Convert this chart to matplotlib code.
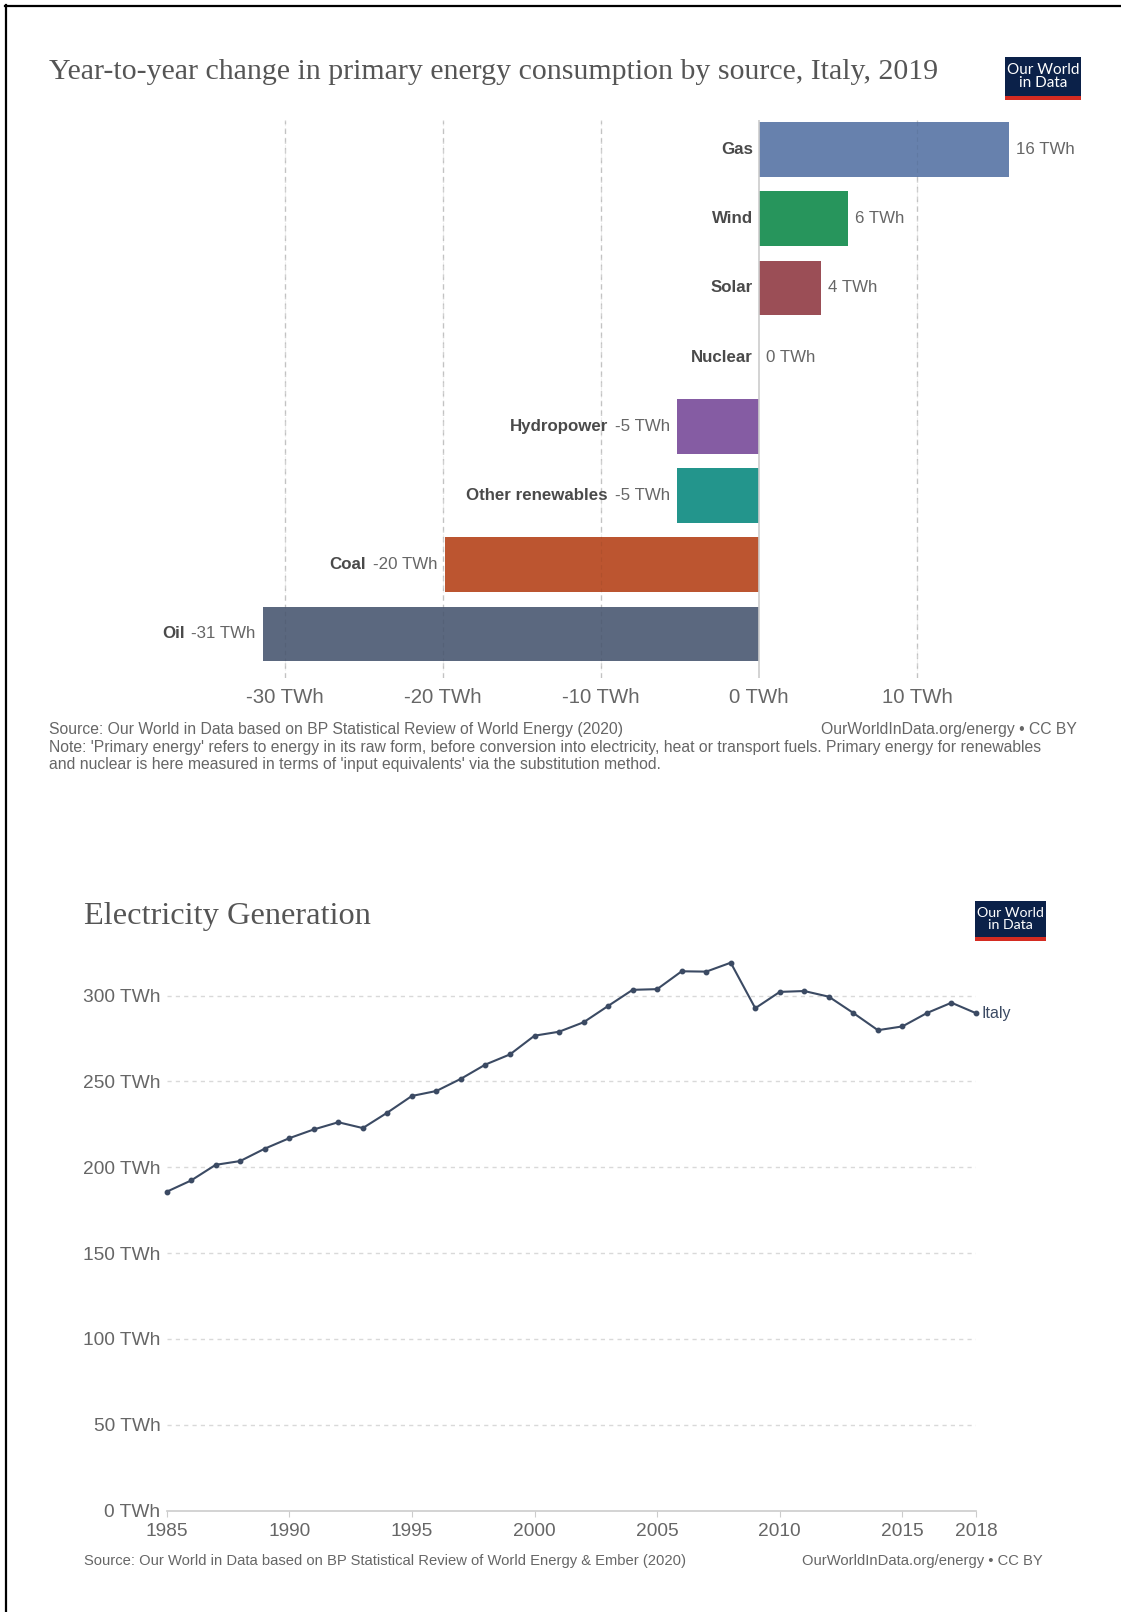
import matplotlib
matplotlib.use("Agg")
import matplotlib.pyplot as plt
from matplotlib.patches import Rectangle
from matplotlib.lines import Line2D

# ---- data ----
sources = ["Gas", "Wind", "Solar", "Nuclear", "Hydropower", "Other renewables", "Coal", "Oil"]
change_twh = [15.8, 5.6, 3.9, 0.0, -5.2, -5.2, -19.9, -31.4]
source_colors = ["#6781AD", "#27955C", "#9B4E56", "#888888", "#855CA3", "#23958C", "#BC5530", "#5B687F"]
bar_ticks = [-30, -20, -10, 0, 10]

years = list(range(1985, 2019))
generation_twh = [185.7, 192.3, 201.4, 203.6, 210.8, 216.9, 222.0, 226.2, 222.8, 231.8,
                  241.5, 244.4, 251.5, 259.8, 265.7, 276.6, 278.9, 284.4, 293.9, 303.3,
                  303.7, 314.1, 313.9, 319.1, 292.6, 302.1, 302.6, 299.3, 289.8, 279.8,
                  282.0, 289.8, 295.8, 289.7]
year_ticks = [1985, 1990, 1995, 2000, 2005, 2010, 2015, 2018]
gen_ticks = [0, 50, 100, 150, 200, 250, 300]

W, H = 1121, 1612
fig = plt.figure(figsize=(W / 100, H / 100), dpi=100)
fig.patch.set_facecolor("white")

SANS = ["Liberation Sans", "DejaVu Sans"]
SERIF = ["Liberation Serif", "DejaVu Serif"]
GREY = "#666666"
NAME_GREY = "#4a4a4a"
LINE_COL = "#3B4A63"


def fx(px):
    return px / W


def fy(py):
    return 1 - py / H


def axes_px(left, top, right, bottom):
    return fig.add_axes([fx(left), fy(bottom), fx(right) - fx(left), fy(top) - fy(bottom)])


def fit_width(txt, target_px):
    renderer = fig.canvas.get_renderer()
    w = txt.get_window_extent(renderer).width
    txt.set_fontsize(txt.get_fontsize() * target_px / w)


def logo(left, top, right, bottom, size):
    fig.add_artist(Rectangle((fx(left), fy(bottom)), fx(right) - fx(left), fy(top) - fy(bottom),
                             transform=fig.transFigure, facecolor="#0B2149", edgecolor="none"))
    strip = 4
    fig.add_artist(Rectangle((fx(left), fy(bottom)), fx(right) - fx(left), strip / H,
                             transform=fig.transFigure, facecolor="#D42B21", edgecolor="none"))
    fig.text(fx((left + right) / 2), fy((top + bottom - strip) / 2), "Our World\nin Data",
             ha="center", va="center", color="white", family=["Lato", "DejaVu Sans"],
             fontsize=size, linespacing=0.95)


# ---- frame lines ----
fig.add_artist(Line2D([fx(5), 1], [fy(6), fy(6)], transform=fig.transFigure, color="black", lw=1.6))
fig.add_artist(Line2D([fx(6), fx(6)], [fy(5), 0], transform=fig.transFigure, color="black", lw=1.6))

# ---- top chart: year-to-year change ----
t1 = fig.text(fx(49), fy(72), "Year-to-year change in primary energy consumption by source, Italy, 2019",
              ha="left", va="center", family=SERIF, fontsize=19, color="#555555")
fit_width(t1, 889)
logo(1005, 57, 1081, 100, 11.0)

px_per = (917.3 - 284.9) / 40.0
zero_px = 284.9 + 30 * px_per
L1, R1, T1, B1 = 240, 1040, 120, 678
row_c0, row_step = 149.6, 69.2
ax1 = axes_px(L1, T1, R1, B1)
ax1.set_xlim((L1 - zero_px) / px_per, (R1 - zero_px) / px_per)
ax1.set_ylim((B1 - row_c0) / row_step, (T1 - row_c0) / row_step)
ypos = list(range(len(sources)))
ax1.barh(ypos, change_twh, height=0.79, color=source_colors, zorder=2)
for t in bar_ticks:
    if t == 0:
        ax1.axvline(0, color="#cccccc", lw=1.2, zorder=3)
    else:
        ax1.axvline(t, color="#cfcfcf", lw=1.0, ls=(0, (4, 3)), zorder=1)
        ax1.axvline(t, color="#000000", lw=0.8, ls=(0, (4, 3)), zorder=2.5, alpha=0.06)
for s in ax1.spines.values():
    s.set_visible(False)
ax1.set_yticks([])
ax1.set_xticks(bar_ticks)
ax1.set_xticklabels([f"{t} TWh" for t in bar_ticks], family=SANS, fontsize=14.7, color=GREY)
ax1.tick_params(axis="x", length=0, pad=7.5)
ax1.set_facecolor("none")

LBL = 12.2
for y, name, v in zip(ypos, sources, change_twh):
    label = f"{v:.0f} TWh"
    if v >= 0:
        ax1.annotate(label, xy=(v, y), xytext=(5, 0), textcoords="offset points",
                     ha="left", va="center", family=SANS, fontsize=LBL, color=GREY)
        ax1.annotate(name, xy=(0, y), xytext=(-4.5, 0), textcoords="offset points",
                     ha="right", va="center", family=SANS, fontsize=LBL,
                     fontweight="bold", color=NAME_GREY)
    else:
        vt = ax1.annotate(label, xy=(v, y), xytext=(-5, 0), textcoords="offset points",
                          ha="right", va="center", family=SANS, fontsize=LBL, color=GREY)
        ax1.annotate(name, xy=(0, 0.5), xycoords=vt, xytext=(-5, 0), textcoords="offset points",
                     ha="right", va="center", family=SANS, fontsize=LBL,
                     fontweight="bold", color=NAME_GREY)

NOTE = 11.3
fig.text(fx(49), fy(729), "Source: Our World in Data based on BP Statistical Review of World Energy (2020)",
         ha="left", va="center", family=SANS, fontsize=NOTE, color=GREY)
fig.text(fx(1077), fy(729), "OurWorldInData.org/energy \u2022 CC BY",
         ha="right", va="center", family=SANS, fontsize=NOTE, color=GREY)
fig.text(fx(49), fy(747.5), "Note: 'Primary energy' refers to energy in its raw form, before conversion into "
         "electricity, heat or transport fuels. Primary energy for renewables",
         ha="left", va="center", family=SANS, fontsize=NOTE, color=GREY)
fig.text(fx(49), fy(765), "and nuclear is here measured in terms of 'input equivalents' via the substitution method.",
         ha="left", va="center", family=SANS, fontsize=NOTE, color=GREY)

# ---- bottom chart: electricity generation ----
t2 = fig.text(fx(84), fy(917), "Electricity Generation", ha="left", va="center",
              family=SERIF, fontsize=21, color="#555555")
fit_width(t2, 286)
logo(975, 901, 1046, 941, 10.2)

y_per = (1510.7 - 995.5) / 300.0
L2, R2, B2 = 166.6, 976.0, 1510.7
top_val = 330
T2 = B2 - top_val * y_per
ax2 = axes_px(L2, T2, R2, B2)
ax2.set_xlim(years[0], years[-1])
ax2.set_ylim(0, top_val)
for g in gen_ticks[1:]:
    ax2.axhline(g, color="#d9d9d9", lw=1.0, ls=(0, (3, 3)), zorder=1)
ax2.plot(years, generation_twh, color=LINE_COL, lw=1.5, marker="o", ms=3.2,
         zorder=3, clip_on=False)
ax2.annotate("Italy", xy=(years[-1], generation_twh[-1]), xytext=(4, 0), textcoords="offset points",
             ha="left", va="center", family=SANS, fontsize=11.5, color=LINE_COL)
for k, s in ax2.spines.items():
    s.set_visible(k == "bottom")
ax2.spines["bottom"].set_color("#cccccc")
ax2.spines["bottom"].set_linewidth(1.2)
ax2.set_yticks(gen_ticks)
ax2.set_yticklabels([f"{g} TWh" for g in gen_ticks], family=SANS, fontsize=13.8, color=GREY)
ax2.set_xticks(year_ticks)
ax2.set_xticklabels([str(y) for y in year_ticks], family=SANS, fontsize=13.8, color=GREY)
ax2.tick_params(axis="y", length=0, pad=4.5)
ax2.tick_params(axis="x", length=4, color="#cccccc", pad=4.5)
ax2.set_facecolor("none")

fig.text(fx(84), fy(1561), "Source: Our World in Data based on BP Statistical Review of World Energy & Ember (2020)",
         ha="left", va="center", family=SANS, fontsize=10.6, color=GREY)
fig.text(fx(1043), fy(1561), "OurWorldInData.org/energy \u2022 CC BY",
         ha="right", va="center", family=SANS, fontsize=10.6, color=GREY)

fig.savefig("out.png", dpi=100, facecolor="white")
